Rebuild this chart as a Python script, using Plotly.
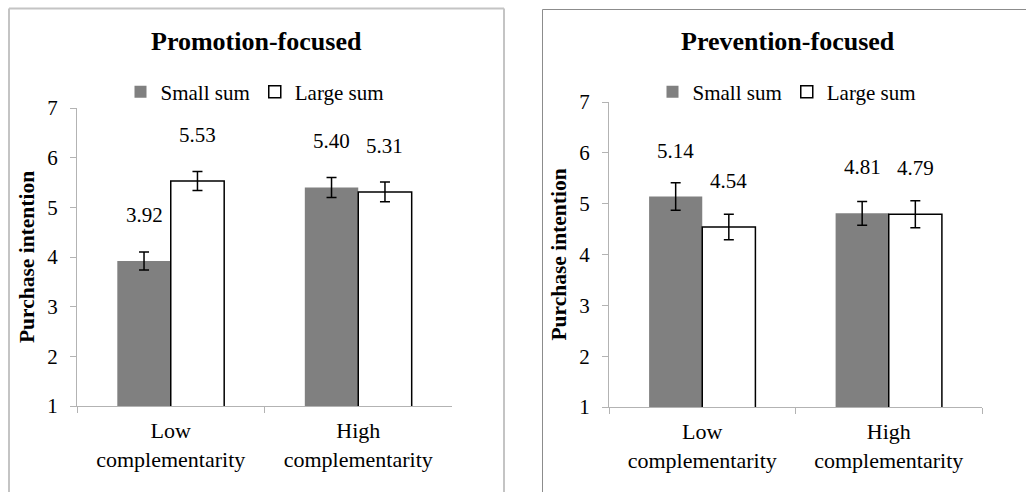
import plotly.graph_objects as go

categories = ["Low<br>complementarity", "High<br>complementarity"]
series_names = ["Small sum", "Large sum"]

promo_small = [3.92, 5.40]
promo_large = [5.53, 5.31]
promo_small_err = [0.18, 0.20]
promo_large_err = [0.19, 0.20]

prev_small = [5.14, 4.81]
prev_large = [4.54, 4.79]
prev_small_err = [0.27, 0.235]
prev_large_err = [0.25, 0.265]

panel_titles = ["Promotion-focused", "Prevention-focused"]
y_title = "Purchase intention"
y_ticks = [1, 2, 3, 4, 5, 6, 7]

W, H = 1026, 492
FONT = "Liberation Serif"
GRAY = "#808080"
AXIS = "#b3b3b3"

def px(x):
    return x / W

def py(y):
    return 1 - y / H

fig = go.Figure()

panels = [
    (promo_small, promo_large, promo_small_err, promo_large_err, "x", "y", "legend"),
    (prev_small, prev_large, prev_small_err, prev_large_err, "x2", "y2", "legend2"),
]

for small, large, serr, lerr, xa, ya, lg in panels:
    fig.add_trace(go.Bar(
        x=categories, y=small, name=series_names[0], xaxis=xa, yaxis=ya, legend=lg,
        marker=dict(color=GRAY, line=dict(width=0)),
        error_y=dict(type="data", array=serr, color="black", thickness=1.5, width=5),
    ))
    fig.add_trace(go.Bar(
        x=categories, y=large, name=series_names[1], xaxis=xa, yaxis=ya, legend=lg,
        marker=dict(color="white", line=dict(color="black", width=1.5)),
        error_y=dict(type="data", array=lerr, color="black", thickness=1.5, width=5),
    ))

annotations = []
bar_half = 26.5
for small, large, _, _, xa, ya, _ in panels:
    for i, c in enumerate(categories):
        annotations.append(dict(x=c, y=small[i], xref=xa, yref=ya, text=f"{small[i]:.2f}",
                                showarrow=False, xshift=-bar_half, yshift=46,
                                font=dict(family=FONT, size=21, color="black")))
        annotations.append(dict(x=c, y=large[i], xref=xa, yref=ya, text=f"{large[i]:.2f}",
                                showarrow=False, xshift=bar_half, yshift=46,
                                font=dict(family=FONT, size=21, color="black")))

for t, cx in zip(panel_titles, [256.5, 788]):
    annotations.append(dict(x=px(cx), y=py(42), xref="paper", yref="paper", text=f"<b>{t}</b>",
                            showarrow=False, xanchor="center", yanchor="middle",
                            font=dict(family=FONT, size=26, color="black")))

shapes = []
light = dict(color="#c4c4c4", width=2)
dark = dict(color="#8c8c8c", width=1)
shapes += [
    dict(type="line", xref="paper", yref="paper", x0=px(9), x1=px(9), y0=py(8.5), y1=-0.05, line=light),
    dict(type="line", xref="paper", yref="paper", x0=px(9), x1=px(504), y0=py(8.5), y1=py(8.5), line=light),
    dict(type="line", xref="paper", yref="paper", x0=px(504), x1=px(504), y0=py(8.5), y1=-0.05, line=light),
    dict(type="line", xref="paper", yref="paper", x0=px(542.5), x1=px(542.5), y0=py(9.5), y1=-0.05, line=dark),
    dict(type="line", xref="paper", yref="paper", x0=px(542.5), x1=1.05, y0=py(9.5), y1=py(9.5), line=dark),
]

def xaxis(domain, anchor):
    return dict(domain=domain, anchor=anchor, type="category", range=[-0.5, 1.5],
                showline=True, linecolor=AXIS, linewidth=1, ticks="outside", tickson="boundaries",
                ticklen=6, tickcolor=AXIS, showgrid=False, zeroline=False, automargin=False,
                tickfont=dict(family=FONT, size=22, color="black"), ticklabelstandoff=5)

def yaxis(domain, anchor):
    return dict(domain=domain, anchor=anchor, range=[1, 7], tickvals=y_ticks,
                showline=True, linecolor=AXIS, linewidth=1, ticks="outside", ticklen=6,
                tickcolor=AXIS, showgrid=False, zeroline=False, automargin=False,
                tickfont=dict(family=FONT, size=21, color="black"), ticklabelstandoff=8,
                title=dict(text=f"<b>{y_title}</b>", font=dict(family=FONT, size=21.5, color="black"),
                           standoff=6))

legend_common = dict(orientation="h", xanchor="center", yanchor="middle",
                     font=dict(family=FONT, size=21, color="black"),
                     bgcolor="rgba(0,0,0,0)", itemwidth=30, tracegroupgap=0)

fig.update_layout(
    width=W, height=H,
    margin=dict(l=0, r=0, t=0, b=0),
    paper_bgcolor="white", plot_bgcolor="white",
    barmode="group", bargap=0.43, bargroupgap=0,
    xaxis=xaxis([px(77), px(452)], "y"),
    yaxis=yaxis([py(406), py(108)], "x"),
    xaxis2=xaxis([px(609), px(982)], "y2"),
    yaxis2=yaxis([py(407), py(102)], "x2"),
    legend=dict(x=px(255), y=py(92), **legend_common),
    legend2=dict(x=px(787), y=py(92), **legend_common),
    annotations=annotations,
    shapes=shapes,
    showlegend=True,
)

fig.write_html("out.html")
